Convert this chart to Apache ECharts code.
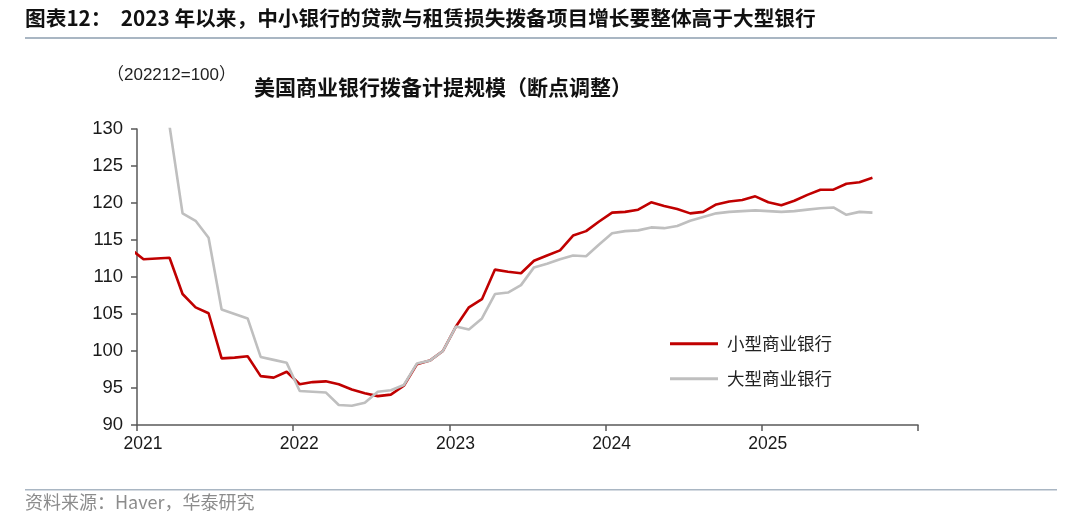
<!DOCTYPE html>
<html>
<head>
<meta charset="utf-8">
<script src="https://cdn.jsdelivr.net/npm/echarts@6/dist/echarts.min.js"></script>
<style>
html,body{margin:0;padding:0;background:#fff;}
#c{width:1080px;height:520px;}
</style>
</head>
<body>
<div id="c"></div>
<script>
var months = ['2020-12',
'2021-01','2021-02','2021-03','2021-04','2021-05','2021-06','2021-07','2021-08','2021-09','2021-10','2021-11','2021-12',
'2022-01','2022-02','2022-03','2022-04','2022-05','2022-06','2022-07','2022-08','2022-09','2022-10','2022-11','2022-12',
'2023-01','2023-02','2023-03','2023-04','2023-05','2023-06','2023-07','2023-08','2023-09','2023-10','2023-11','2023-12',
'2024-01','2024-02','2024-03','2024-04','2024-05','2024-06','2024-07','2024-08','2024-09','2024-10','2024-11','2024-12',
'2025-01','2025-02','2025-03','2025-04','2025-05','2025-06','2025-07','2025-08','2025-09'];

var smallBanks = [113.8,
112.4,112.5,112.6,107.7,105.9,105.1,99.0,99.1,99.3,96.6,96.4,97.2,
95.5,95.8,95.9,95.5,94.8,94.3,93.9,94.1,95.3,98.2,98.7,100.0,
103.3,105.9,107.0,111.0,110.7,110.5,112.2,112.9,113.6,115.6,116.2,117.5,
118.7,118.8,119.1,120.1,119.6,119.2,118.6,118.8,119.8,120.2,120.4,120.9,
120.1,119.7,120.3,121.1,121.8,121.8,122.6,122.8,123.4];

var largeBanks = [null,
null,null,130.4,118.6,117.6,115.3,105.6,105.0,104.4,99.2,98.8,98.4,
94.6,94.5,94.4,92.7,92.6,93.0,94.5,94.7,95.4,98.3,98.7,100.0,
103.3,102.9,104.4,107.7,107.9,108.9,111.3,111.8,112.4,112.9,112.8,114.4,
115.9,116.2,116.3,116.7,116.6,116.9,117.6,118.1,118.6,118.8,118.9,119.0,
118.9,118.8,118.9,119.1,119.3,119.4,118.4,118.8,118.7];

var seriesNames = ['小型商业银行', '大型商业银行'];
var yearLabels = ['2021', '2022', '2023', '2024', '2025'];
var startYear = 2021;

function pos(m) {
  var p = m.split('-');
  return (parseInt(p[0], 10) - startYear) * 12 + (parseInt(p[1], 10) - 1) + 0.5;
}
function pairs(vals) {
  return months.map(function (m, i) { return [pos(m), vals[i]]; });
}

var chart = echarts.init(document.getElementById('c'), null, {renderer: 'canvas'});
var axisColor = '#595959';
var labelFont = 'Liberation Sans, Arial, sans-serif';
var option = {
  animation: false,
  backgroundColor: '#ffffff',
  grid: {left: 137, right: 162, top: 129, bottom: 95, containLabel: false},
  xAxis: {
    type: 'value', min: 0, max: 60, interval: 12,
    axisLine: {show: true, lineStyle: {color: axisColor, width: 1.5}},
    axisTick: {show: true, length: 6, lineStyle: {color: axisColor, width: 1.5}},
    splitLine: {show: false},
    axisLabel: {
      margin: 10, fontSize: 17.5, color: '#1a1a1a', fontFamily: labelFont,
      padding: [0, 0, 0, 12],
      formatter: function (v) { var i = Math.round(v / 12); return yearLabels[i] || ''; }
    }
  },
  yAxis: {
    type: 'value', min: 90, max: 130, interval: 5,
    axisLine: {show: true, lineStyle: {color: axisColor, width: 1.5}},
    axisTick: {show: true, length: 6, lineStyle: {color: axisColor, width: 1.5}},
    splitLine: {show: false},
    axisLabel: {margin: 14, fontSize: 18.5, color: '#1a1a1a', fontFamily: labelFont}
  },
  legend: [{
    data: [seriesNames[0]], left: 670, top: 335, orient: 'vertical', padding: 0,
    icon: 'rect', itemWidth: 48, itemHeight: 3, itemGap: 10,
    textStyle: {fontSize: 17.5, color: '#222', fontFamily: 'Noto Sans CJK SC', padding: [0, 0, 0, 4]}
  }, {
    data: [seriesNames[1]], left: 670, top: 370, orient: 'vertical', padding: 0,
    icon: 'rect', itemWidth: 48, itemHeight: 3, itemGap: 10,
    textStyle: {fontSize: 17.5, color: '#222', fontFamily: 'Noto Sans CJK SC', padding: [0, 0, 0, 4]}
  }],
  series: [{
    name: seriesNames[0], type: 'line', data: pairs(smallBanks), showSymbol: false, symbol: 'none',
    clip: true, color: '#C00000', lineStyle: {color: '#C00000', width: 2.6}, connectNulls: false
  }, {
    name: seriesNames[1], type: 'line', data: pairs(largeBanks), showSymbol: false, symbol: 'none',
    clip: true, color: '#BFBFBF', lineStyle: {color: '#BFBFBF', width: 2.6}, connectNulls: false
  }],
  graphic: [
    {type: 'text', left: 25, top: 8, style: {text: '图表12：  2023 年以来，中小银行的贷款与租赁损失拨备项目增长要整体高于大型银行',
      fontSize: 20.7, fontWeight: 'bold', fontFamily: 'Noto Sans CJK SC', fill: '#111'}},
    {type: 'rect', shape: {x: 25, y: 37, width: 1032, height: 2}, style: {fill: '#A9B6C3'}},
    {type: 'text', left: 107, top: 67, style: {text: '（202212=100）', fontSize: 17, fontFamily: 'Liberation Sans, Noto Sans CJK SC', fill: '#222'}},
    {type: 'text', left: 254, top: 77, style: {text: '美国商业银行拨备计提规模（断点调整）', fontSize: 21, fontWeight: 'bold', fontFamily: 'Noto Sans CJK SC', fill: '#111'}},
    {type: 'rect', shape: {x: 25, y: 489, width: 1032, height: 1.5}, style: {fill: '#A9B6C3'}},
    {type: 'text', left: 25, top: 493, style: {text: '资料来源：Haver，华泰研究', fontSize: 18, fontFamily: 'Noto Sans CJK SC', fill: '#8c8c8c'}}
  ]
};
chart.setOption(option);
</script>
</body>
</html>
